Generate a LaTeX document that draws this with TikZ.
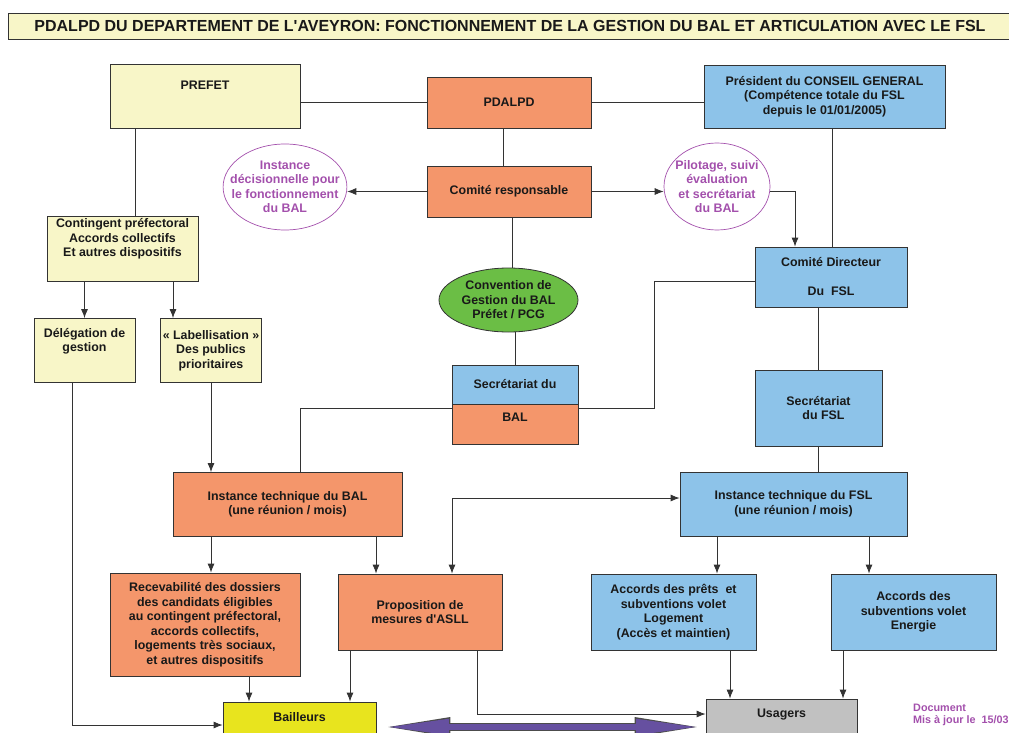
\documentclass[tikz,border=0pt]{standalone}
\usepackage{fontspec}
\setmainfont{Liberation Sans}
\usetikzlibrary{arrows.meta,shapes.geometric,positioning}

\definecolor{prefyellow}{RGB}{248,246,200}
\definecolor{pdorange}{RGB}{244,150,107}
\definecolor{cgblue}{RGB}{141,195,233}
\definecolor{convgreen}{RGB}{107,190,69}
\definecolor{notepurple}{RGB}{163,80,172}
\definecolor{bailyellow}{RGB}{232,228,30}
\definecolor{usagray}{RGB}{193,193,193}
\definecolor{arrowpurple}{RGB}{102,80,160}

\begin{document}
\begin{tikzpicture}
  [
    x=1pt, y=-1pt,
    >={Latex[length=9pt,width=7pt]},
    every node/.style={font=\fontsize{12.4}{14.5}\selectfont\bfseries, align=center, text=black!90},
    box/.style={rectangle, draw=black!80, line width=0.8pt, inner sep=2pt},
    yellowbox/.style={box, fill=prefyellow},
    orangebox/.style={box, fill=pdorange},
    bluebox/.style={box, fill=cgblue},
    bubble/.style={ellipse, draw=notepurple, line width=0.7pt, text=notepurple, inner sep=-6pt},
    link/.style={draw=black!80, line width=0.8pt},
  ]
  \useasboundingbox (0,0) rectangle (1009,733);

  % title
  \node[yellowbox, font=\fontsize{16}{19}\selectfont\bfseries, minimum width=1004pt, minimum height=26pt] (title) at (510,26)
    {PDALPD DU DEPARTEMENT DE L\textquotesingle AVEYRON: FONCTIONNEMENT DE LA GESTION DU BAL ET ARTICULATION AVEC LE FSL};

  % top row
  \node[yellowbox, minimum width=190pt, minimum height=64pt] (prefet) at (205,96) {PREFET\\[8pt]~};
  \node[orangebox, minimum width=164pt, minimum height=51pt] (pdalpd) at (509,102.5) {PDALPD};
  \node[bluebox, minimum width=241pt, minimum height=63pt] (pcg) at (824.5,96.5)
    {Président du CONSEIL GENERAL\\(Compétence totale du FSL\\depuis le 01/01/2005)};

  \node[orangebox, minimum width=164pt, minimum height=51pt] (comresp) at (509,191.5) {Comité responsable};
  \node[bubble, inner sep=-11pt, minimum width=123pt, minimum height=86pt] (decision) at (285,187)
    {Instance\\décisionnelle pour\\le fonctionnement\\du BAL};
  \node[bubble, minimum width=106pt, minimum height=87pt] (pilotage) at (717,186.5)
    {Pilotage, suivi\\évaluation\\et secrétariat\\du BAL};
  \node[bluebox, minimum width=152pt, minimum height=60pt] (comdir) at (831,277) {Comité Directeur\\[14.5pt]Du\ \ FSL};

  % left column
  \node[yellowbox, minimum width=151pt, minimum height=64pt] (conting) at (122.5,249)
    {Contingent préfectoral\\Accords collectifs\\Et autres dispositifs\\[8pt]~};
  \node[yellowbox, minimum width=101pt, minimum height=64pt] (deleg) at (84.5,350.5) {Délégation de\\gestion\\[6.5pt]~};
  \node[yellowbox, minimum width=101pt, minimum height=64pt, inner sep=1pt] (labelpub) at (211,350.5)
    {« Labellisation »\\Des publics\\prioritaires};

  % middle
  \node[ellipse, draw=black!80, line width=0.8pt, fill=convgreen, inner sep=0pt, minimum width=139pt, minimum height=64pt] (conv) at (508.5,300)
    {Convention de\\Gestion du BAL\\Préfet / PCG};
  \node[bluebox, minimum width=126pt, minimum height=39pt] (secbal) at (515,384.5) {Secrétariat du};
  \node[orangebox, minimum width=126pt, minimum height=40pt, below=0pt of secbal] (bal) {BAL\\~};
  \node[bluebox, minimum width=127pt, minimum height=76pt, align=left] (secfsl) at (818.5,408) {Secrétariat\\\hspace*{16pt}du FSL};

  \node[orangebox, minimum width=229pt, minimum height=64pt] (instbal) at (287.5,504.5) {Instance technique du BAL\\(une réunion / mois)};
  \node[bluebox, minimum width=227pt, minimum height=64pt] (instfsl) at (793.5,504) {Instance technique du FSL\\(une réunion / mois)};

  % lower row
  \node[orangebox, minimum width=190pt, minimum height=103pt] (recev) at (205,624.5)
    {Recevabilité des dossiers\\des candidats éligibles\\au contingent préfectoral,\\accords collectifs,\\logements très sociaux,\\et autres dispositifs};
  \node[orangebox, minimum width=164pt, minimum height=76pt] (asll) at (420,612) {Proposition de\\mesures d\textquotesingle ASLL};
  \node[bluebox, minimum width=165pt, minimum height=76pt] (prets) at (673.5,612)
    {Accords des prêts\ \ et\\subventions volet\\Logement\\(Accès et maintien)};
  \node[bluebox, minimum width=165pt, minimum height=76pt] (energie) at (913.5,612) {Accords des\\subventions volet\\Energie};

  \node[box, fill=bailyellow, minimum width=153pt, minimum height=38pt] (bailleurs) at (299.5,721) {Bailleurs\\[-6.5pt]~};
  \node[box, fill=usagray, minimum width=151pt, minimum height=41pt] (usagers) at (781.5,719.5) {Usagers\\[-1pt]~};
  \node[anchor=north west, align=left, text=notepurple, font=\fontsize{10.8}{11.5}\selectfont\bfseries, inner sep=0pt] (maj) at (913,704)
    {Document\\Mis à jour le\ \ 15/03};

  % connectors
  \draw[link] (pdalpd.west -| prefet.east) -- (pdalpd.west);
  \draw[link] (pdalpd.east) -- (pdalpd.east -| pcg.west);
  \draw[link] ([xshift=-6pt]pdalpd.south) -- ([xshift=-6pt]comresp.north);
  \draw[link, ->] (comresp.west) -- (comresp.west -| decision.east);
  \draw[link, ->] (comresp.east) -- (comresp.east -| pilotage.west);
  \draw[link, ->] (comresp.east -| pilotage.east) -| ([xshift=-36pt]comdir.north);
  \draw[link] ([xshift=7.5pt]pcg.south) -- ([xshift=7.5pt]pcg.south |- comdir.north);
  \draw[link] ([yshift=-4pt]comdir.west) -| ([xshift=76pt, yshift=-4pt]bal.north east) -- ([yshift=-4pt]bal.north east);
  \draw[link] ([yshift=-4pt]bal.north west) -| ([xshift=12.5pt]instbal.north);
  \draw[link] ([xshift=3pt]comresp.south) -- ([xshift=3pt]comresp.south |- conv.north);
  \draw[link] (secbal.north |- conv.south) -- (secbal.north);

  \draw[link] ([xshift=-70pt]prefet.south) -- ([xshift=-70pt]prefet.south |- conting.north);
  \draw[link, ->] (deleg.north |- conting.south) -- (deleg.north);
  \draw[link, ->] ([xshift=-38pt]labelpub.north |- conting.south) -- ([xshift=-38pt]labelpub.north);
  \draw[link, ->] ([xshift=-12.5pt]deleg.south) |- ([yshift=-4pt]bailleurs.west);
  \draw[link, ->] (labelpub.south) -- (labelpub.south |- instbal.north);

  \draw[link, ->] ([xshift=-76.5pt]instbal.south) -- ([xshift=-76.5pt]instbal.south |- recev.north);
  \draw[link, ->] ([xshift=88.5pt]instbal.south) -- ([xshift=88.5pt]instbal.south |- asll.north);
  \draw[link, <->] ([xshift=32pt]asll.north) |- ([yshift=6pt]instfsl.west);

  \draw[link] (secfsl.north |- comdir.south) -- (secfsl.north);
  \draw[link] (secfsl.south) -- (secfsl.south |- instfsl.north);
  \draw[link, ->] ([xshift=-76.5pt]instfsl.south) -- ([xshift=-76.5pt]instfsl.south |- prets.north);
  \draw[link, ->] ([xshift=75.5pt]instfsl.south) -- ([xshift=75.5pt]instfsl.south |- energie.north);

  \draw[link, ->] ([xshift=44pt]recev.south) -- ([xshift=44pt]recev.south |- bailleurs.north);
  \draw[link, ->] ([xshift=-70pt]asll.south) -- ([xshift=-70pt]asll.south |- bailleurs.north);
  \draw[link, ->] ([xshift=57pt]asll.south) |- ([yshift=5.5pt]usagers.west);
  \draw[link, ->] ([xshift=56.5pt]prets.south) -- ([xshift=56.5pt]prets.south |- usagers.north);
  \draw[link, ->] ([xshift=-70.5pt]energie.south) -- ([xshift=-70.5pt]energie.south |- usagers.north);

  % bailleurs <-> usagers
  \draw[line width=8pt, black!70, {Triangle[length=62pt,width=20pt,line width=0pt]}-{Triangle[length=62pt,width=20pt,line width=0pt]}]
    ([xshift=12pt, yshift=-6pt]bailleurs.east) -- ([xshift=-9pt, yshift=-7.5pt]usagers.west);
  \draw[line width=5.5pt, arrowpurple, {Triangle[length=59pt,width=16.5pt,line width=0pt]}-{Triangle[length=59pt,width=16.5pt,line width=0pt]}]
    ([xshift=13.5pt, yshift=-6pt]bailleurs.east) -- ([xshift=-10.5pt, yshift=-7.5pt]usagers.west);
\end{tikzpicture}
\end{document}
